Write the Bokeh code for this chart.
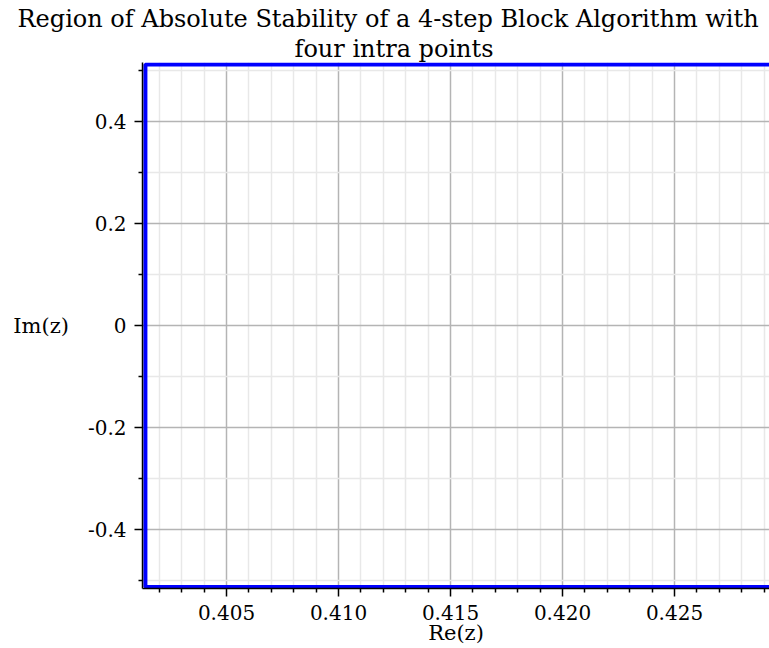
from bokeh.plotting import figure
from bokeh.models import FixedTicker, Range1d, Title
from bokeh.embed import file_html
from bokeh.resources import INLINE

# ---- data ----
title_line1 = "Region of Absolute Stability of a 4-step Block Algorithm with"
title_line2 = "four intra points"
x_label = "Re(z)"
y_label = "Im(z)"

# boundary of the stability region (continues past the right edge of the view)
re_boundary = [0.4400, 0.40138, 0.40138, 0.4400]
im_boundary = [0.5118, 0.5118, -0.5127, -0.5127]

x_ticks = [0.405, 0.410, 0.415, 0.420, 0.425]
x_tick_labels = ["0.405", "0.410", "0.415", "0.420", "0.425"]
x_minor_ticks = [0.402, 0.403, 0.404, 0.406, 0.407, 0.408, 0.409,
                 0.411, 0.412, 0.413, 0.414, 0.416, 0.417, 0.418, 0.419,
                 0.421, 0.422, 0.423, 0.424, 0.426, 0.427, 0.428, 0.429]
y_ticks = [-0.4, -0.2, 0.0, 0.2, 0.4]
y_tick_labels = ["-0.4", "-0.2", "0", "0.2", "0.4"]
y_minor_ticks = [-0.5, -0.3, -0.1, 0.1, 0.3, 0.5]

x_view = (0.40125, 0.42924)
y_view = (-0.5157, 0.5157)

# ---- layout ----
W, H = 769, 648
BL, BR, BT, BB = 142, 0, 62, 60

SERIF = "DejaVu Serif"

p = figure(width=W, height=H, title=None,
           x_range=Range1d(*x_view), y_range=Range1d(*y_view),
           output_backend="svg", toolbar_location=None,
           min_border_left=BL, min_border_right=BR,
           min_border_top=BT, min_border_bottom=BB)

p.background_fill_color = "white"
p.border_fill_color = "white"
p.outline_line_color = None

p.xaxis.ticker = FixedTicker(ticks=x_ticks, minor_ticks=x_minor_ticks)
p.yaxis.ticker = FixedTicker(ticks=y_ticks, minor_ticks=y_minor_ticks)
p.xaxis.major_label_overrides = dict(zip(x_ticks, x_tick_labels))
p.yaxis.major_label_overrides = dict(zip(y_ticks, y_tick_labels))

for ax in (p.xaxis[0], p.yaxis[0]):
    ax.axis_line_color = "black"
    ax.axis_line_width = 1.5
    ax.major_tick_line_color = "black"
    ax.major_tick_line_width = 1.5
    ax.minor_tick_line_color = "black"
    ax.minor_tick_line_width = 1.5
    ax.major_tick_out = 8
    ax.major_tick_in = 0
    ax.minor_tick_out = 4
    ax.minor_tick_in = 0
    ax.major_label_text_font = SERIF
    ax.major_label_text_font_size = "20px"
    ax.major_label_text_color = "black"
    ax.axis_label_text_font = SERIF
    ax.axis_label_text_font_size = "21px"
    ax.axis_label_text_font_style = "normal"
    ax.axis_label_text_color = "black"

p.xaxis.major_label_standoff = 8
p.xaxis.axis_label = x_label
p.xaxis.axis_label_standoff = -2

p.yaxis.major_label_standoff = 8
p.yaxis.axis_label = y_label
p.yaxis.axis_label_orientation = "horizontal"
p.yaxis.axis_label_standoff = 16

for g in (p.xgrid[0], p.ygrid[0]):
    g.grid_line_color = "#b4b4b4"
    g.grid_line_width = 1.5
    g.minor_grid_line_color = "#e8e8e8"
    g.minor_grid_line_width = 1.5

p.line(re_boundary, im_boundary, line_color="#0000ff", line_width=4)

# two-line title, centred on the page
p.add_layout(Title(text=title_line2, align="left", offset=152, standoff=0,
                   text_font="'DejaVu Serif', serif", text_font_size="24px",
                   text_font_style="normal", text_color="black"), "above")
p.add_layout(Title(text=title_line1, align="left", offset=-125, standoff=0,
                   text_font="'DejaVu Serif', serif", text_font_size="24px",
                   text_font_style="normal", text_color="black"), "above")

open("out.html", "w").write(file_html(p, INLINE))
